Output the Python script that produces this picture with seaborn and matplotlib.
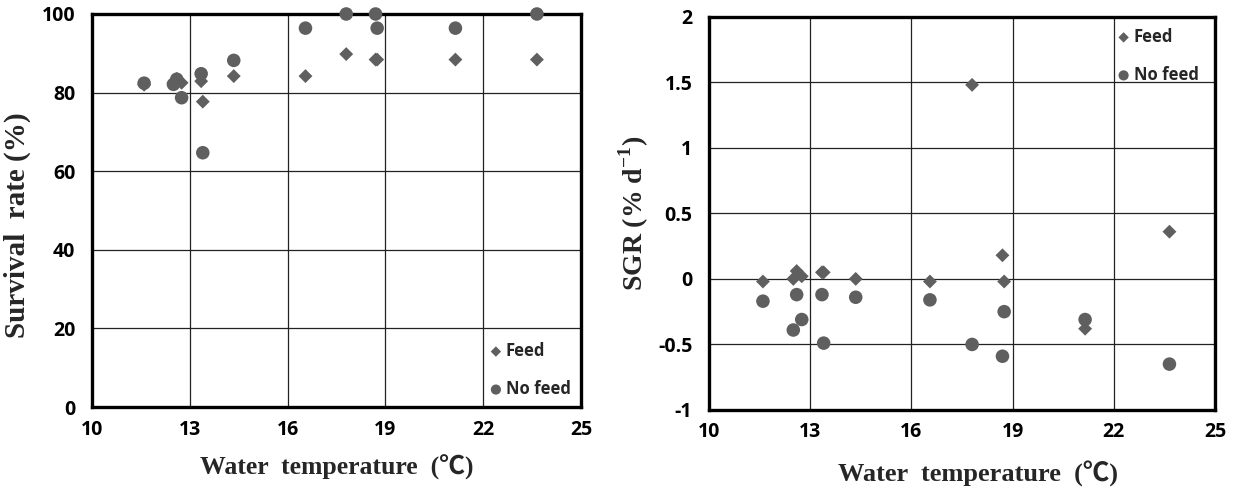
import numpy as np
import pandas as pd
import matplotlib
matplotlib.use("Agg")
import matplotlib.pyplot as plt
import seaborn as sns

# Daten
temperature = [11.6, 12.5, 12.6, 12.75, 13.35, 13.4, 14.35, 16.55, 17.8, 18.7, 18.75, 21.15, 23.65]

survival_feed = [82.0, 82.5, 83.5, 82.5, 82.9, 77.7, 84.2, 84.2, 89.8, 88.4, 88.4, 88.4, 88.4]
survival_nofeed = [82.4, 82.1, 83.4, 78.7, 84.8, 64.7, 88.2, 96.4, 100.0, 100.0, 96.4, 96.4, 100.0]

sgr_feed = [-0.02, 0.0, 0.06, 0.02, 0.05, 0.05, 0.0, -0.02, 1.48, 0.18, -0.02, -0.38, 0.36]
sgr_nofeed = [-0.17, -0.39, -0.12, -0.31, -0.12, -0.49, -0.14, -0.16, -0.50, -0.59, -0.25, -0.31, -0.65]

x_ticks = [10, 13, 16, 19, 22, 25]
surv_ticks = [0, 20, 40, 60, 80, 100]
sgr_ticks = [-1, -0.5, 0, 0.5, 1, 1.5, 2]
sgr_labels = ["-1", "-0.5", "0", "0.5", "1", "1.5", "2"]

sns.set_theme(style="white")
plt.rcParams["font.family"] = ["Open Sans", "DejaVu Sans"]
plt.rcParams["mathtext.fontset"] = "custom"
plt.rcParams["mathtext.rm"] = "Liberation Serif"
plt.rcParams["mathtext.bf"] = "Liberation Serif:bold"

grey = "#5f5f5f"
label_font = ["Liberation Serif", "Noto Sans CJK SC", "DejaVu Serif"]
legend_prop = {"family": ["Open Sans"], "weight": "bold", "size": 12}

df = pd.DataFrame({
    "temp": temperature,
    "surv_feed": survival_feed,
    "surv_nofeed": survival_nofeed,
    "sgr_feed": sgr_feed,
    "sgr_nofeed": sgr_nofeed,
})

fig = plt.figure(figsize=(12.36, 4.91), dpi=100)
ax1 = fig.add_axes([0.0744, 0.171, 0.3956, 0.8005])
ax2 = fig.add_axes([0.5736, 0.165, 0.4094, 0.801])


def style_axis(ax, yticks, ylabels, ylim):
    ax.set_xlim(10, 25)
    ax.set_ylim(*ylim)
    ax.set_xticks(x_ticks)
    ax.set_xticklabels([str(t) for t in x_ticks])
    ax.set_yticks(yticks)
    ax.set_yticklabels(ylabels)
    ax.grid(True, color="#222222", linewidth=0.9)
    ax.set_axisbelow(True)
    for sp in ax.spines.values():
        sp.set_color("black")
        sp.set_linewidth(2.4)
    ax.tick_params(axis="both", length=0, labelsize=14, colors="black")
    ax.tick_params(axis="y", pad=12)
    ax.tick_params(axis="x", pad=9)
    for lab in ax.get_xticklabels() + ax.get_yticklabels():
        lab.set_fontweight("bold")


# Linkes Diagramm: Überlebensrate
sns.scatterplot(data=df, x="temp", y="surv_feed", marker="D", s=50, color=grey,
                edgecolor="none", label="Feed", ax=ax1, clip_on=False, zorder=3)
sns.scatterplot(data=df, x="temp", y="surv_nofeed", marker="o", s=95, color=grey,
                edgecolor="none", label="No feed", ax=ax1, clip_on=False, zorder=3)
style_axis(ax1, surv_ticks, [str(t) for t in surv_ticks], (0, 100))
ax1.set_xlabel("Water  temperature  (℃)", fontsize=18.5, fontweight="bold",
               family=label_font, labelpad=11)
ax1.set_ylabel("Survival  rate (%)", fontsize=21, fontweight="bold",
               family=label_font, labelpad=8)
ax1.yaxis.label.set_y(0.463)
ax1.legend(loc="lower left", bbox_to_anchor=(0.775, -0.015), frameon=False,
           prop=legend_prop, labelspacing=1.2, handletextpad=0.0,
           handlelength=1.2, markerscale=0.75)

# Rechtes Diagramm: SGR
sns.scatterplot(data=df, x="temp", y="sgr_feed", marker="D", s=50, color=grey,
                edgecolor="none", label="Feed", ax=ax2, clip_on=False, zorder=3)
sns.scatterplot(data=df, x="temp", y="sgr_nofeed", marker="o", s=95, color=grey,
                edgecolor="none", label="No feed", ax=ax2, clip_on=False, zorder=3)
style_axis(ax2, sgr_ticks, sgr_labels, (-1, 2))
ax2.set_xlabel("Water  temperature  (℃)", fontsize=19, fontweight="bold",
               family=label_font, labelpad=13)
ax2.xaxis.label.set_x(0.532)
ax2.set_ylabel(r"SGR (% d$^{\mathbf{-1}}$)", fontsize=20, fontweight="bold",
               family=label_font, labelpad=5)
ax2.legend(loc="upper left", bbox_to_anchor=(0.77, 1.01), frameon=False,
           prop=legend_prop, labelspacing=1.2, handletextpad=0.0,
           handlelength=1.2, markerscale=0.75)

fig.savefig("out.png", dpi=100)
